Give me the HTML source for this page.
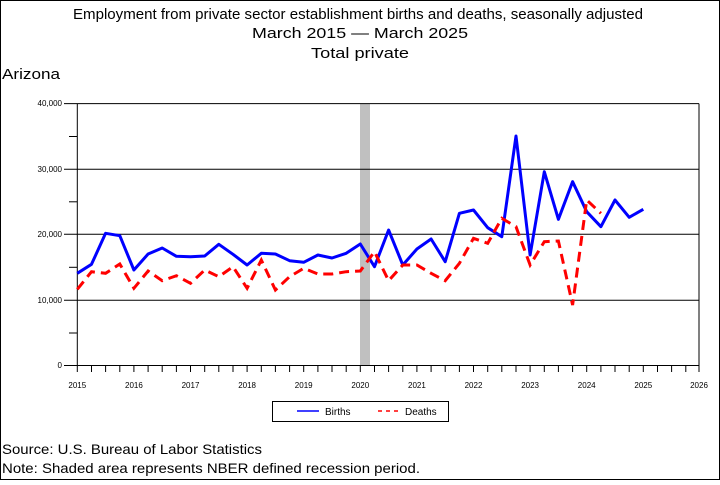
<!DOCTYPE html>
<html><head><style>html,body{margin:0;padding:0;background:#fff}</style></head><body>
<svg width="720" height="480" xmlns="http://www.w3.org/2000/svg" font-family="Liberation Sans, sans-serif">
<rect x="0.5" y="0.5" width="719" height="479" fill="#fff" stroke="#000"/>
<g font-size="15" text-anchor="middle" fill="#000">
<text x="358" y="19" textLength="570" lengthAdjust="spacingAndGlyphs">Employment from private sector establishment births and deaths, seasonally adjusted</text>
<text x="360" y="38" textLength="216" lengthAdjust="spacingAndGlyphs">March 2015 — March 2025</text>
<text x="360" y="58" textLength="98" lengthAdjust="spacingAndGlyphs">Total private</text>
</g>
<text x="2" y="79" font-size="15" textLength="58" lengthAdjust="spacingAndGlyphs">Arizona</text>
<rect x="360" y="104" width="10" height="261" fill="#c0c0c0"/>
<g stroke="#000" stroke-width="1">
<line x1="64" y1="103.6" x2="699" y2="103.6"/>
<line x1="64" y1="169.3" x2="699" y2="169.3"/>
<line x1="64" y1="234.3" x2="699" y2="234.3"/>
<line x1="64" y1="300.3" x2="699" y2="300.3"/>
<line x1="64" y1="365.5" x2="699" y2="365.5"/>
<line x1="77.3" y1="103.6" x2="77.3" y2="372"/>
<line x1="699" y1="103.6" x2="699" y2="372"/>
<line x1="69" y1="136.5" x2="77" y2="136.5"/>
<line x1="69" y1="201.8" x2="77" y2="201.8"/>
<line x1="69" y1="267.3" x2="77" y2="267.3"/>
<line x1="69" y1="333" x2="77" y2="333"/>
</g>
<path stroke="#000" stroke-width="1" d="M91.5 365v7M105.6 365v7M119.8 365v7M133.9 365v7M148.1 365v7M162.2 365v7M176.4 365v7M190.5 365v7M204.7 365v7M218.8 365v7M233 365v7M247.1 365v7M261.3 365v7M275.4 365v7M289.6 365v7M303.7 365v7M317.9 365v7M332 365v7M346.2 365v7M360.3 365v7M374.5 365v7M388.6 365v7M402.8 365v7M416.9 365v7M431.1 365v7M445.2 365v7M459.4 365v7M473.5 365v7M487.7 365v7M501.8 365v7M516 365v7M530.1 365v7M544.3 365v7M558.4 365v7M572.6 365v7M586.7 365v7M600.9 365v7M615 365v7M629.2 365v7M643.3 365v7M657.5 365v7M671.6 365v7M685.8 365v7"/>
<g font-size="8" text-anchor="end">
<text x="62" y="106">40,000</text>
<text x="62" y="172">30,000</text>
<text x="62" y="237">20,000</text>
<text x="62" y="303">10,000</text>
<text x="62" y="368">0</text>
</g>
<g font-size="8" text-anchor="middle">
<text x="77.3" y="388">2015</text><text x="133.9" y="388">2016</text><text x="190.5" y="388">2017</text><text x="247.1" y="388">2018</text><text x="303.7" y="388">2019</text><text x="360.3" y="388">2020</text><text x="416.9" y="388">2021</text><text x="473.5" y="388">2022</text><text x="530.1" y="388">2023</text><text x="586.7" y="388">2024</text><text x="643.3" y="388">2025</text><text x="699" y="388">2026</text>
</g>
<polyline fill="none" stroke="#0000ff" stroke-width="3" stroke-linejoin="round" points="77.3,273.3 91.5,264.3 105.6,233.3 119.8,235.7 133.9,270 148.1,254 162.2,248 176.4,256.3 190.5,256.7 204.7,256 218.8,244.3 233,254.3 247.1,265 261.3,253.3 275.4,254 289.6,260.7 303.7,262.3 317.9,255 332,258 346.2,253.3 360.3,244 374.5,266.7 388.6,230 402.8,265 416.9,249 431.1,239 445.2,261.7 459.4,213.3 473.5,210 487.7,227.7 501.8,236.7 516,136 530.1,255 544.3,171.7 558.4,219.3 572.6,181.7 586.7,211.7 600.9,226.7 615,200 629.2,217.3 643.3,209.3"/>
<polyline fill="none" stroke="#ff0000" stroke-width="3" stroke-dasharray="10,6" points="77.3,289.3 91.5,271.7 105.6,273.3 119.8,264 133.9,288.3 148.1,271 162.2,280.7 176.4,275.7 190.5,283.3 204.7,270 218.8,276.7 233,266.7 247.1,288.3 261.3,260 275.4,290 289.6,276.7 303.7,268.3 317.9,274 332,274 346.2,271.7 360.3,271 374.5,251.7 388.6,280.7 402.8,265 416.9,265 431.1,273.3 445.2,280.7 459.4,263.3 473.5,238.3 487.7,243.3 501.8,218.3 516,226.7 530.1,265 544.3,241.7 558.4,241 572.6,305 586.7,200 600.9,213.3"/>
<rect x="272.5" y="401.5" width="176" height="20" fill="none" stroke="#000"/>
<line x1="297" y1="411" x2="319" y2="411" stroke="#0000ff" stroke-width="1.5"/>
<text x="325" y="415" font-size="10">Births</text>
<line x1="378" y1="411" x2="399" y2="411" stroke="#ff0000" stroke-width="1.5" stroke-dasharray="4,4"/>
<text x="405" y="415" font-size="10">Deaths</text>
<text x="2" y="454" font-size="14" textLength="260" lengthAdjust="spacingAndGlyphs">Source: U.S. Bureau of Labor Statistics</text>
<text x="2" y="473" font-size="14" textLength="418" lengthAdjust="spacingAndGlyphs">Note: Shaded area represents NBER defined recession period.</text>
</svg>
</body></html>
